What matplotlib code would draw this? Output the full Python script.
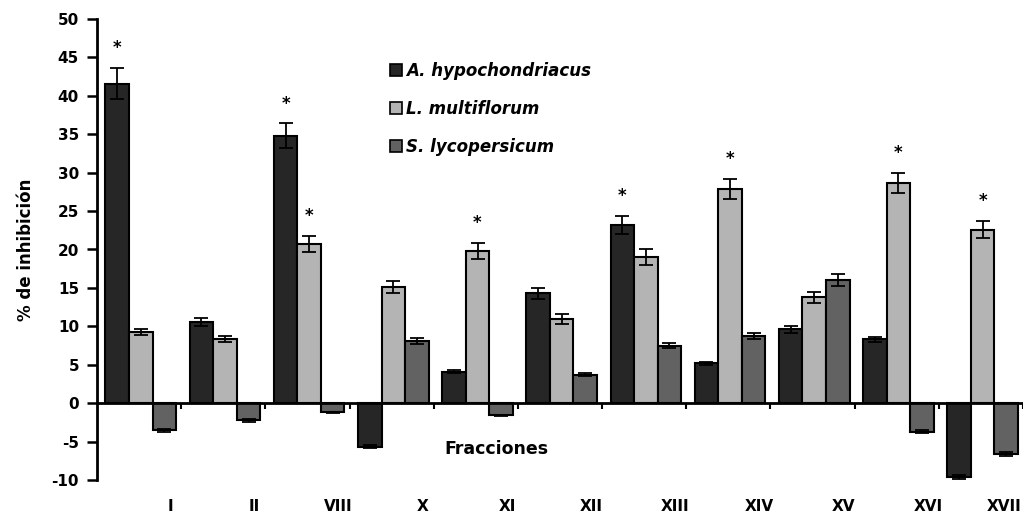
import matplotlib.pyplot as plt
import numpy as np
from matplotlib.patches import Patch

plt.rcParams['font.family'] = ['DejaVu Sans']
plt.rcParams['axes.unicode_minus'] = False

fracciones = ["I", "II", "VIII", "X", "XI", "XII", "XIII", "XIV", "XV", "XVI", "XVII"]
especies = ["A. hypochondriacus", "L. multiflorum", "S. lycopersicum"]
colores = ["#262626", "#b4b4b4", "#626262"]

# % de inhibición por fracción
hypochondriacus = [41.6, 10.6, 34.8, -5.7, 4.1, 14.3, 23.2, 5.2, 9.6, 8.3, -9.6]
multiflorum = [9.3, 8.3, 20.7, 15.1, 19.8, 11.0, 19.0, 27.9, 13.8, 28.6, 22.6]
lycopersicum = [-3.5, -2.2, -1.2, 8.1, -1.6, 3.7, 7.5, 8.7, 16.0, -3.7, -6.6]

err_hypo = [2.0, 0.5, 1.6, 0.2, 0.2, 0.7, 1.2, 0.2, 0.5, 0.3, 0.3]
err_multi = [0.4, 0.4, 1.0, 0.75, 1.0, 0.65, 1.0, 1.3, 0.7, 1.3, 1.1]
err_lyco = [0.2, 0.2, 0.1, 0.4, 0.1, 0.2, 0.3, 0.4, 0.8, 0.2, 0.3]

# diferencias significativas (serie, fracción)
signif = [(0, 0), (0, 2), (1, 2), (1, 4), (0, 6), (1, 7), (1, 9), (1, 10)]

valores = [hypochondriacus, multiflorum, lycopersicum]
errores = [err_hypo, err_multi, err_lyco]

fig = plt.figure(figsize=(10.23, 5.19), dpi=100)
ax = fig.add_axes([97 / 1023, 1 - 480 / 519, (1023 - 97) / 1023, (480 - 19) / 519])

x = np.arange(len(fracciones))
ancho = 0.28
for k in range(3):
    pos = x + 0.52 + (k - 1) * ancho
    ax.bar(pos, valores[k], ancho, color=colores[k], edgecolor="black", linewidth=1.5,
           yerr=errores[k], error_kw=dict(ecolor="black", elinewidth=1.3, capsize=5, capthick=1.3),
           zorder=2)

for k, i in signif:
    y = valores[k][i] + errores[k][i] + 2.6
    ax.text(i + 0.52 + (k - 1) * ancho, y, "*", ha="center", va="center",
            fontsize=12, fontweight="bold")

xmax = (1023 - 97) / 84.4
ax.set_xlim(0, xmax)
ax.set_ylim(-10, 50)
ax.set_yticks(np.arange(-10, 51, 5))
ax.tick_params(axis="y", direction="out", length=7, width=1.8, pad=6, labelsize=11)
for t in ax.get_yticklabels():
    t.set_fontweight("bold")

ax.spines["right"].set_visible(False)
ax.spines["top"].set_visible(False)
ax.spines["left"].set_linewidth(2)
ax.spines["bottom"].set_position(("data", 0))
ax.spines["bottom"].set_linewidth(2)
ax.set_xticks(np.arange(1, len(fracciones) + 1))
ax.set_xticklabels([])
ax.tick_params(axis="x", direction="out", length=4, width=1.5)

for i, lab in enumerate(fracciones):
    ax.text(min(i + 0.87, xmax - 0.2), -13.5, lab, ha="center", va="center", fontsize=11,
            fontweight="bold", clip_on=False)

ax.text(4.74, -6, "Fracciones", ha="center", va="center", fontsize=12.5, fontweight="bold")
ax.set_ylabel("% de inhibición", fontsize=12, fontweight="bold", labelpad=12)

handles = [Patch(facecolor=c, edgecolor="black", linewidth=1.2) for c in colores]
leg = ax.legend(handles, especies, loc="upper left", bbox_to_anchor=(0.3, 0.94),
                frameon=False, handlelength=0.75, handleheight=0.75, handletextpad=0.25,
                labelspacing=1.2, prop=dict(size=12, weight="bold", style="italic"))

plt.savefig("out.png", dpi=100)
plt.close()
